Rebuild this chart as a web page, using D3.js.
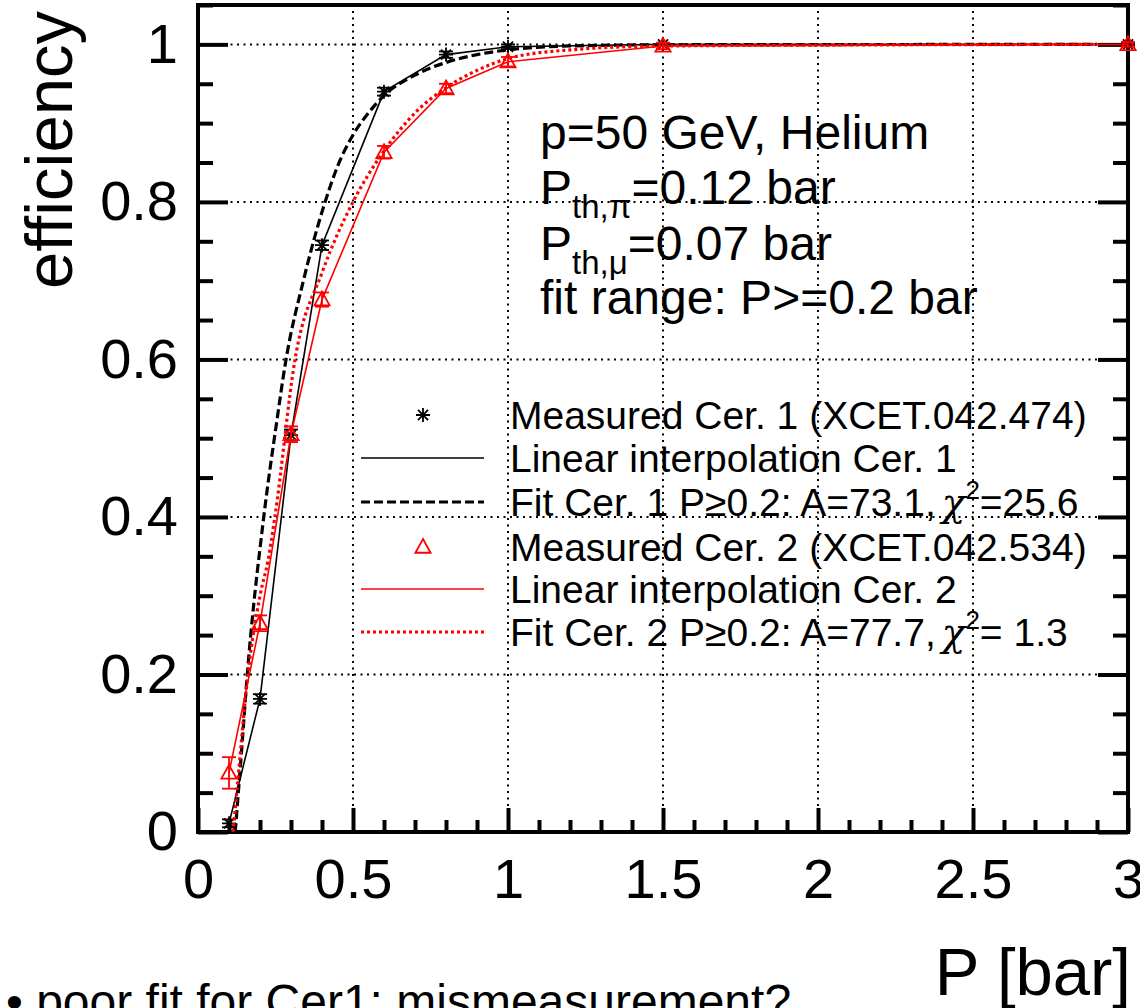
<!DOCTYPE html>
<html>
<head>
<meta charset="utf-8">
<script src="https://cdn.jsdelivr.net/npm/d3@7/dist/d3.min.js"></script>
<style>
  html, body { margin: 0; padding: 0; background: #fff; }
  svg { display: block; font-family: "Liberation Sans", Arial, Helvetica, sans-serif; }
</style>
</head>
<body>
<svg id="chart" width="1140" height="1008"></svg>
<script>
// ---- data ----
const pressure = [0.1, 0.2, 0.3, 0.4, 0.6, 0.8, 1.0, 1.5, 3.0];
const effCer1 = [0.011, 0.169, 0.504, 0.745, 0.940, 0.987, 0.997, 1.0, 1.0];
const errCer1 = [0.005, 0.006, 0.007, 0.006, 0.005, 0.004, 0.003, 0.002, 0.002];
const effCer2 = [0.075, 0.265, 0.505, 0.676, 0.863, 0.944, 0.978, 0.998, 1.0];
const errCer2 = [0.020, 0.010, 0.010, 0.009, 0.008, 0.006, 0.006, 0.004, 0.003];

// fit curves
const fitCer1P   = [0.12, 0.14, 0.16, 0.18, 0.20, 0.22, 0.25, 0.284, 0.34, 0.41, 0.45, 0.50, 0.55, 0.60, 0.70, 0.80, 0.90, 1.00, 1.20, 1.50, 2.90];
const fitCer1Eff = [0.00, 0.10, 0.205, 0.29, 0.36, 0.425, 0.51, 0.60, 0.70, 0.80, 0.845, 0.885, 0.913, 0.935, 0.961, 0.977, 0.987, 0.993, 0.998, 0.9995, 1.0];
const fitCer2P   = [0.113, 0.125, 0.161, 0.20, 0.226, 0.248, 0.313, 0.40, 0.50, 0.597, 0.70, 0.80, 0.90, 1.00, 1.20, 1.50, 2.90];
const fitCer2Eff = [0.00, 0.05, 0.20, 0.30, 0.345, 0.40, 0.60, 0.71, 0.80, 0.863, 0.913, 0.945, 0.967, 0.982, 0.993, 0.998, 1.0];

const xTicks = [0, 0.5, 1, 1.5, 2, 2.5, 3];
const xTickLabels = ["0", "0.5", "1", "1.5", "2", "2.5", "3"];
const yTicks = [0, 0.2, 0.4, 0.6, 0.8, 1.0];
const yTickLabels = ["0", "0.2", "0.4", "0.6", "0.8", "1"];

const legendLabels = [
  "Measured Cer. 1 (XCET.042.474)",
  "Linear interpolation Cer. 1",
  "Fit Cer. 1 P\u22650.2: A=73.1,",
  "Measured Cer. 2 (XCET.042.534)",
  "Linear interpolation Cer. 2",
  "Fit Cer. 2 P\u22650.2: A=77.7,"
];
const legendChi = ["", "", "=25.6", "", "", "= 1.3"];

// ---- drawing ----
const svg = d3.select("#chart");
const L = 198, R = 1128, T = 5, B = 832;
const x = d3.scaleLinear().domain([0, 3]).range([L, R]);
const y = d3.scaleLinear().domain([0, 1.05]).range([B, T]);

const xMinor = d3.range(0, 3.0001, 0.1).map(v => +v.toFixed(2)).filter(v => !xTicks.some(t => Math.abs(t - v) < 1e-6));
const yMinor = d3.range(0, 1.0501, 0.05).map(v => +v.toFixed(2)).filter(v => !yTicks.some(t => Math.abs(t - v) < 1e-6));

// grid
const grid = svg.append("g").attr("stroke", "#000").attr("stroke-width", 2).attr("stroke-dasharray", "2,4.5");
xTicks.filter(v => v > 0 && v < 3).forEach(v => {
  grid.append("line").attr("x1", x(v)).attr("x2", x(v)).attr("y1", B).attr("y2", T);
});
yTicks.filter(v => v > 0).forEach(v => {
  grid.append("line").attr("x1", L).attr("x2", R).attr("y1", y(v)).attr("y2", y(v));
});

function styleAxis(g) {
  g.select(".domain").remove();
  g.selectAll(".tick line").attr("stroke", "#000").attr("stroke-width", 4);
  g.selectAll(".tick text").attr("fill", "#000");
}

// left axis
svg.append("g").attr("transform", `translate(${L},0)`)
  .call(d3.axisLeft(y).tickValues(yTicks).tickSize(-30).tickSizeOuter(0).tickPadding(20)
    .tickFormat((d, i) => yTickLabels[i]))
  .call(styleAxis)
  .call(g => g.selectAll(".tick text").attr("font-size", 56).attr("font-family", "Liberation Sans, Arial, sans-serif"));
svg.append("g").attr("transform", `translate(${L},0)`)
  .call(d3.axisLeft(y).tickValues(yMinor).tickSize(-15).tickSizeOuter(0).tickFormat(""))
  .call(styleAxis);
// right axis
svg.append("g").attr("transform", `translate(${R},0)`)
  .call(d3.axisRight(y).tickValues(yTicks).tickSize(-30).tickSizeOuter(0).tickFormat(""))
  .call(styleAxis);
svg.append("g").attr("transform", `translate(${R},0)`)
  .call(d3.axisRight(y).tickValues(yMinor).tickSize(-15).tickSizeOuter(0).tickFormat(""))
  .call(styleAxis);
// bottom axis
svg.append("g").attr("transform", `translate(0,${B})`)
  .call(d3.axisBottom(x).tickValues(xTicks).tickSize(-24).tickSizeOuter(0).tickPadding(26)
    .tickFormat((d, i) => xTickLabels[i]))
  .call(styleAxis)
  .call(g => g.selectAll(".tick text").attr("font-size", 56).attr("font-family", "Liberation Sans, Arial, sans-serif"));
svg.append("g").attr("transform", `translate(0,${B})`)
  .call(d3.axisBottom(x).tickValues(xMinor).tickSize(-12).tickSizeOuter(0).tickFormat(""))
  .call(styleAxis);

// frame
svg.append("rect").attr("x", L).attr("y", T).attr("width", R - L).attr("height", B - T)
  .attr("fill", "none").attr("stroke", "#000").attr("stroke-width", 4);

// lines
const line = d3.line().x(d => x(d[0])).y(d => y(d[1]));
const smooth = d3.line().x(d => x(d[0])).y(d => y(d[1])).curve(d3.curveMonotoneX);

const d1 = pressure.map((p, i) => [p, effCer1[i], errCer1[i]]);
const d2 = pressure.map((p, i) => [p, effCer2[i], errCer2[i]]);
const f1 = fitCer1P.map((p, i) => [p, fitCer1Eff[i]]);
const f2 = fitCer2P.map((p, i) => [p, fitCer2Eff[i]]);

function starPath(s) {
  const k = s * 0.72;
  return `M${-s},0H${s}M0,${-s}V${s}M${-k},${-k}L${k},${k}M${-k},${k}L${k},${-k}`;
}
function triPath(s) {
  return `M0,${-s}L${s * 0.95},${s * 0.72}L${-s * 0.95},${s * 0.72}Z`;
}

function drawErrors(data, color) {
  const g = svg.append("g").attr("stroke", color).attr("stroke-width", 1.8).attr("fill", "none");
  data.forEach(d => {
    const y0 = y(d[1] - d[2]), y1 = y(d[1] + d[2]), cx = x(d[0]);
    g.append("line").attr("x1", cx).attr("x2", cx).attr("y1", y0).attr("y2", y1);
    g.append("line").attr("x1", cx - 7).attr("x2", cx + 7).attr("y1", y0).attr("y2", y0);
    g.append("line").attr("x1", cx - 7).attr("x2", cx + 7).attr("y1", y1).attr("y2", y1);
  });
}

// Cer 1
svg.append("path").datum(d1).attr("d", line).attr("fill", "none").attr("stroke", "#000").attr("stroke-width", 1.6);
drawErrors(d1, "#000");
svg.append("g").selectAll("path").data(d1).join("path")
  .attr("transform", d => `translate(${x(d[0])},${y(d[1])})`)
  .attr("d", starPath(7)).attr("stroke", "#000").attr("stroke-width", 1.8).attr("fill", "none");
svg.append("path").datum(f1).attr("d", smooth).attr("fill", "none").attr("stroke", "#000")
  .attr("stroke-width", 3.2).attr("stroke-dasharray", "9,4");

// Cer 2
svg.append("path").datum(d2).attr("d", line).attr("fill", "none").attr("stroke", "#ff0000").attr("stroke-width", 1.6);
drawErrors(d2, "#ff0000");
svg.append("g").selectAll("path").data(d2).join("path")
  .attr("transform", d => `translate(${x(d[0])},${y(d[1])})`)
  .attr("d", triPath(8)).attr("stroke", "#ff0000").attr("stroke-width", 1.8).attr("fill", "none");
svg.append("path").datum(f2).attr("d", smooth).attr("fill", "none").attr("stroke", "#ff0000")
  .attr("stroke-width", 3.2).attr("stroke-dasharray", "3,3");

// legend
const legY = [415, 458, 502, 547, 589, 632];
const leg = svg.append("g");
legY.forEach((ly, i) => {
  const color = i < 3 ? "#000" : "#ff0000";
  const kind = i % 3;
  if (kind === 0) {
    leg.append("path").attr("transform", `translate(423,${ly})`)
      .attr("d", i < 3 ? starPath(7) : triPath(8)).attr("stroke", color).attr("stroke-width", 1.8).attr("fill", "none");
  } else {
    leg.append("line").attr("x1", 361).attr("x2", 484).attr("y1", ly).attr("y2", ly)
      .attr("stroke", color)
      .attr("stroke-width", kind === 1 ? 1.6 : 3.2)
      .attr("stroke-dasharray", kind === 1 ? null : (i < 3 ? "9,4" : "3,3"));
  }
  const t = leg.append("text").attr("x", 510).attr("y", ly + 14).attr("font-size", 39).attr("fill", "#000");
  t.append("tspan").text(legendLabels[i]);
  if (legendChi[i]) {
    t.append("tspan").attr("font-family", "DejaVu Serif, serif").attr("font-style", "italic").attr("dx", 6).text("\u03c7");
    t.append("tspan").attr("font-size", 26).attr("dy", -17).text("2");
    t.append("tspan").attr("dy", 17).text(legendChi[i]);
  }
});

// annotation
const ann = svg.append("g").attr("font-size", 48).attr("fill", "#000");
ann.append("text").attr("x", 540).attr("y", 149).text("p=50 GeV, Helium");
const a2 = ann.append("text").attr("x", 540).attr("y", 204);
a2.append("tspan").text("P");
a2.append("tspan").attr("font-size", 33).attr("dy", 14).text("th,\u03c0");
a2.append("tspan").attr("dy", -14).text("=0.12 bar");
const a3 = ann.append("text").attr("x", 540).attr("y", 260);
a3.append("tspan").text("P");
a3.append("tspan").attr("font-size", 33).attr("dy", 14).text("th,\u03bc");
a3.append("tspan").attr("dy", -14).text("=0.07 bar");
ann.append("text").attr("x", 540).attr("y", 314).text("fit range: P>=0.2 bar");

// axis titles
svg.append("text").attr("transform", "translate(72,11) rotate(-90)").attr("text-anchor", "end")
  .attr("font-size", 67).attr("fill", "#000").text("efficiency");
svg.append("text").attr("x", 1131).attr("y", 995).attr("text-anchor", "end")
  .attr("font-size", 67).attr("fill", "#000").text("P [bar]");

// bottom note
svg.append("text").attr("x", 6).attr("y", 1018).attr("font-size", 48).attr("fill", "#000")
  .text("\u2022 poor fit for Cer1: mismeasurement?");
</script>
</body>
</html>
